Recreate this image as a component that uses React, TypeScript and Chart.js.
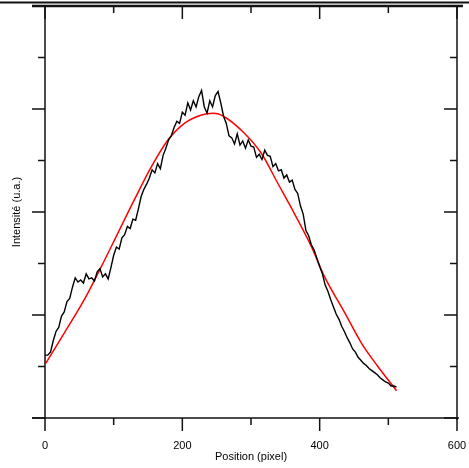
import React, { useEffect, useRef } from "react";
import { Chart, registerables } from "chart.js";

Chart.register(...registerables);

// Axis ticks
const xTickLabels = [0, 200, 400, 600];
const xMinorTicks = [100, 300, 500];
const yMajorTicks = [0, 1, 2, 3, 4];
const yMinorTicks = [0.5, 1.5, 2.5, 3.5];

// Measured intensity profile (black)
const profileX = [
  0, 4, 8, 12, 16, 20, 24, 28, 32, 36, 40, 44, 48, 52, 56, 60, 64, 68, 72, 76,
  80, 84, 88, 92, 96, 100, 104, 108, 112, 116, 120, 124, 128, 132, 136, 140, 144, 148, 152, 156,
  160, 164, 168, 172, 176, 180, 184, 188, 192, 196, 200, 204, 208, 212, 216, 220, 224, 228, 232, 236,
  240, 244, 248, 252, 256, 260, 264, 268, 272, 276, 280, 284, 288, 292, 296, 300, 304, 308, 312, 316,
  320, 324, 328, 332, 336, 340, 344, 348, 352, 356, 360, 364, 368, 372, 376, 380, 384, 388, 392, 396,
  400, 404, 408, 412, 416, 420, 424, 428, 432, 436, 440, 444, 448, 452, 456, 460, 464, 468, 472, 476,
  480, 484, 488, 492, 496, 500, 504, 508, 512,
];
const profileY = [
  0.61, 0.61, 0.64, 0.75, 0.84, 0.88, 0.99, 1.03, 1.13, 1.16, 1.27, 1.36, 1.32, 1.34, 1.31, 1.40, 1.35, 1.36, 1.33, 1.42,
  1.45, 1.37, 1.40, 1.35, 1.46, 1.58, 1.66, 1.64, 1.75, 1.78, 1.86, 1.84, 1.93, 1.92, 2.03, 2.15, 2.22, 2.27, 2.33, 2.41,
  2.38, 2.47, 2.42, 2.55, 2.62, 2.70, 2.74, 2.82, 2.88, 2.86, 2.97, 2.94, 3.06, 2.99, 3.08, 3.02, 3.12, 3.18, 3.02, 2.96,
  3.08, 3.02, 3.13, 3.17, 3.06, 2.93, 2.86, 2.74, 2.72, 2.66, 2.76, 2.65, 2.69, 2.62, 2.70, 2.64, 2.63, 2.53, 2.56, 2.51,
  2.60, 2.55, 2.54, 2.44, 2.47, 2.40, 2.41, 2.33, 2.36, 2.29, 2.31, 2.22, 2.18, 2.06, 1.98, 1.82, 1.77, 1.68, 1.63, 1.55,
  1.47, 1.40, 1.29, 1.23, 1.15, 1.08, 1.01, 0.96, 0.89, 0.84, 0.78, 0.73, 0.67, 0.64, 0.59, 0.56, 0.53, 0.51, 0.48, 0.46,
  0.44, 0.42, 0.39, 0.37, 0.35, 0.34, 0.31, 0.31, 0.30,
];

// Fitted curve (red)
const fitX = [1, 28, 57, 82, 106, 130, 155, 179, 203, 228, 245, 261, 290, 315, 339, 363, 388, 407, 437, 461, 485, 512];
const fitY = [0.53, 0.825, 1.146, 1.469, 1.793, 2.117, 2.44, 2.699, 2.861, 2.942, 2.958, 2.925, 2.767, 2.57, 2.279, 1.987, 1.663, 1.372, 1.016, 0.725, 0.498, 0.265];

const FONT = { family: "'Liberation Sans', Arial, sans-serif", size: 11 };

const framePlugin = {
  id: "frame",
  afterDatasetsDraw(chart: any) {
    const { ctx, chartArea: a, scales } = chart;
    const xs = scales.x;
    const ys = scales.y;
    const line = (x1: number, y1: number, x2: number, y2: number, w = 1.5) => {
      ctx.beginPath();
      ctx.lineWidth = w;
      ctx.moveTo(x1, y1);
      ctx.lineTo(x2, y2);
      ctx.stroke();
    };
    ctx.save();
    ctx.strokeStyle = "#111";
    ctx.lineCap = "butt";
    line(a.left, a.top, a.left, a.bottom);
    line(a.right, a.top, a.right, a.bottom + 2);
    line(a.left - 13, a.bottom, a.right + 2, a.bottom);
    line(a.left - 13, a.top, a.right + 6, a.top, 2.5);
    line(0, 2.5, chart.width, 2.5, 2);
    const xt = (v: number, len: number) => {
      const p = xs.getPixelForValue(v);
      line(p, a.bottom, p, a.bottom + len);
      line(p, a.top, p, a.top + len);
    };
    xTickLabels.forEach((v) => xt(v, 13));
    xMinorTicks.forEach((v) => xt(v, 7));
    const yt = (v: number, len: number) => {
      const p = ys.getPixelForValue(v);
      line(a.left - len, p, a.left, p);
      line(a.right - len, p, a.right, p);
    };
    yMajorTicks.forEach((v) => yt(v, 13));
    yMinorTicks.forEach((v) => yt(v, 7));
    ctx.restore();
  },
};

export default function App() {
  const ref = useRef<HTMLCanvasElement>(null);
  useEffect(() => {
    if (!ref.current) return;
    const chart = new Chart(ref.current, {
      type: "scatter",
      data: {
        datasets: [
          {
            label: "Profil",
            data: profileX.map((x, i) => ({ x, y: profileY[i] })),
            showLine: true,
            borderColor: "#000",
            borderWidth: 1.4,
            pointRadius: 0,
            tension: 0,
          },
          {
            label: "Ajustement",
            data: fitX.map((x, i) => ({ x, y: fitY[i] })),
            showLine: true,
            borderColor: "#ff0000",
            borderWidth: 1.5,
            pointRadius: 0,
            cubicInterpolationMode: "monotone",
          },
        ],
      },
      options: {
        animation: false,
        responsive: false,
        maintainAspectRatio: false,
        layout: { padding: { top: 6, right: 12, bottom: 0, left: 0 } },
        plugins: { legend: { display: false }, tooltip: { enabled: false } },
        scales: {
          x: {
            type: "linear",
            min: 0,
            max: 600,
            position: "bottom",
            grid: { display: false, drawTicks: true, tickLength: 13 },
            border: { display: false },
            ticks: {
              stepSize: 200,
              padding: 8,
              color: "#000",
              font: FONT,
              maxRotation: 0,
              autoSkip: false,
              callback: (v: any) => (xTickLabels.includes(Number(v)) ? String(v) : ""),
            },
            title: {
              display: true,
              text: "Position (pixel)",
              color: "#000",
              font: FONT,
              padding: { top: 0, bottom: 4 },
            },
            afterFit: (s: any) => {
              s.height = 50;
              s.paddingLeft = 0;
              s.paddingRight = 0;
            },
          },
          y: {
            type: "linear",
            min: 0,
            max: 4,
            grid: { display: false, drawTicks: false },
            border: { display: false },
            ticks: { display: false, stepSize: 1 },
            title: {
              display: true,
              text: "Intensité (u.a.)",
              color: "#000",
              font: FONT,
              padding: { top: 10, bottom: 0 },
            },
            afterFit: (s: any) => {
              s.width = 45;
              s.paddingTop = 0;
              s.paddingBottom = 0;
            },
          },
        },
      },
      plugins: [framePlugin],
    } as any);
    return () => chart.destroy();
  }, []);
  return (
    <div style={{ position: "fixed", left: 0, top: 0, width: 469, height: 468, background: "#fff" }}>
      <canvas ref={ref} width={469} height={468} style={{ display: "block" }} />
    </div>
  );
}
